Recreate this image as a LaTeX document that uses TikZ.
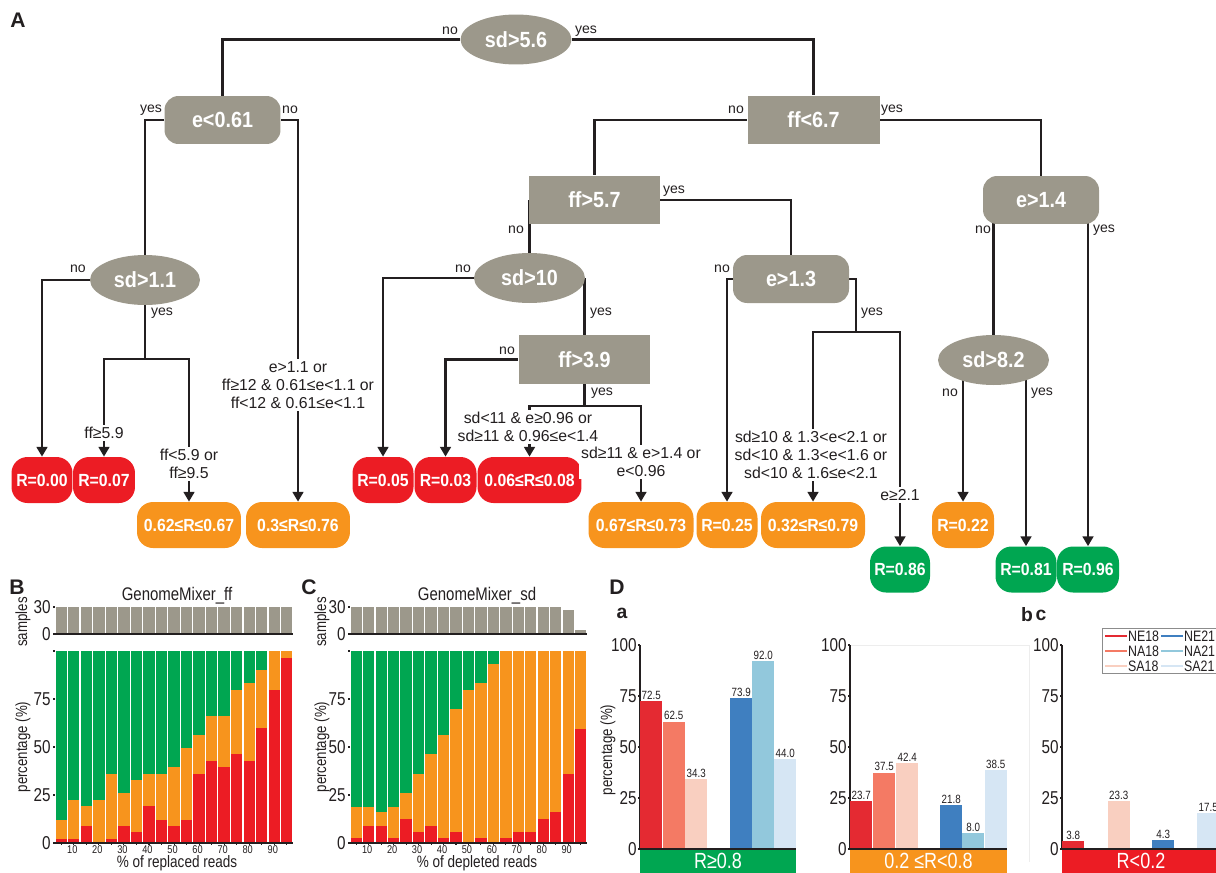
\documentclass[tikz,border=0pt]{standalone}
\usepackage{fontspec}
\setmainfont{Liberation Sans}
\newfontfamily\narrowsf{Liberation Sans}[FakeStretch=0.82]
\newfontfamily\leafsf{Liberation Sans}[FakeStretch=0.9]
\usepackage{tikz}
\usetikzlibrary{arrows.meta,positioning,backgrounds,calc,shapes.geometric}
\definecolor{dtInk}{HTML}{231F20}
\definecolor{dtGray}{HTML}{9C988B}
\definecolor{dtRed}{HTML}{EC1C24}
\definecolor{dtOrange}{HTML}{F7941D}
\definecolor{dtGreen}{HTML}{00A651}
\definecolor{dtNEa}{HTML}{E42A32}
\definecolor{dtNAa}{HTML}{F47A64}
\definecolor{dtSAa}{HTML}{F9CFC0}
\definecolor{dtNEb}{HTML}{3F7FC0}
\definecolor{dtNAb}{HTML}{92C8DC}
\definecolor{dtSAb}{HTML}{D6E6F4}
\tikzset{
  ovbox/.style={ellipse,fill=dtGray,minimum width=2.22cm,minimum height=1.0cm,
    inner sep=0pt,font=\leafsf\fontsize{12.5}{13}\selectfont\bfseries,text=white},
  sqbox/.style={rectangle,fill=dtGray,minimum width=2.64cm,minimum height=0.98cm,
    inner sep=0pt,font=\leafsf\fontsize{12.5}{13}\selectfont\bfseries,text=white},
  rdbox/.style={rectangle,rounded corners=0.28cm,fill=dtGray,minimum width=2.32cm,
    minimum height=0.96cm,inner sep=0pt,font=\leafsf\fontsize{12.5}{13}\selectfont\bfseries,text=white},
  leaf/.style={rectangle,rounded corners=0.32cm,minimum height=0.92cm,minimum width=1.22cm,
    inner sep=0pt,font=\leafsf\fontsize{10}{11}\selectfont\bfseries,text=white},
  wleaf/.style={leaf,minimum width=2.08cm},
  lowR/.style={fill=dtRed},
  midR/.style={fill=dtOrange},
  highR/.style={fill=dtGreen},
  yn/.style={font=\fontsize{8}{9}\selectfont,inner sep=0pt,text=dtInk},
  cond/.style={fill=white,align=center,inner sep=1.5pt,
    font=\fontsize{9}{10.2}\selectfont,text=dtInk},
  br/.style={line width=1.5pt,draw=dtInk},
  arr/.style={br,-{Triangle[length=5.5pt,width=6pt]}},
  pnl/.style={font=\fontsize{12}{12}\selectfont\bfseries,text=dtInk,inner sep=0pt},
  ttl/.style={font=\narrowsf\fontsize{10.4}{11}\selectfont,text=dtInk,inner sep=0pt},
  xttl/.style={font=\narrowsf\fontsize{9.4}{10}\selectfont,text=dtInk,inner sep=0pt,anchor=base},
  axlbl/.style={font=\narrowsf\fontsize{9.2}{10}\selectfont,text=dtInk,inner sep=0pt},
  tk/.style={font=\narrowsf\fontsize{10.6}{11}\selectfont,text=dtInk,inner sep=0pt,anchor=east},
  xtk/.style={font=\narrowsf\fontsize{6.4}{7}\selectfont,text=dtInk,inner sep=0pt,anchor=north},
  val/.style={font=\narrowsf\fontsize{6.8}{7}\selectfont,text=dtInk,inner sep=0.6pt,anchor=south},
  lgd/.style={font=\narrowsf\fontsize{8.6}{9}\selectfont,text=dtInk,inner sep=1pt,anchor=west},
  band/.style={rectangle,minimum height=0.48cm,inner sep=0pt,text=white,
    font=\narrowsf\fontsize{12.5}{13}\selectfont},
  axline/.style={line width=0.6pt,draw=dtInk},
}
\begin{document}
\begin{tikzpicture}[x=0.02cm,y=-0.02cm]
  \useasboundingbox (0,0) rectangle (1216,872);

  % A: regression tree
  \node[pnl] (labA) at (18,20) {A};
  \node[ovbox] (root) at (516,39.5) {sd>5.6};
  \node[rdbox] (e061) at (222.5,120) {e<0.61};
  \node[sqbox] (ff67) at (813.5,120) {ff<6.7};
  \node[sqbox,minimum width=2.62cm] (ff57) at (594.5,200) {ff>5.7};
  \node[rdbox] (e14) at (1041,200) {e>1.4};
  \node[ovbox,minimum width=2.2cm] (sd11) at (145,280) {sd>1.1};
  \node[ovbox] (sd10) at (529.5,278) {sd>10};
  \node[rdbox] (e13) at (791,279) {e>1.3};
  \node[sqbox] (ff39) at (584.5,359.5) {ff>3.9};
  \node[ovbox] (sd82) at (993.5,360) {sd>8.2};

  \node[leaf,lowR] (r000) at (42,480) {R=0.00};
  \node[leaf,lowR,minimum width=1.24cm] (r007) at (104,480) {R=0.07};
  \node[wleaf,midR] (r062) at (189,525) {0.62≤R≤0.67};
  \node[wleaf,midR] (r030) at (298,525) {0.3≤R≤0.76};
  \node[leaf,lowR] (r005) at (383,480) {R=0.05};
  \node[leaf,lowR,minimum width=1.24cm] (r003) at (445.5,480) {R=0.03};
  \node[wleaf,lowR] (r006) at (529.5,480) {0.06≤R≤0.08};
  \node[wleaf,midR,minimum width=2.1cm] (r067) at (641,525) {0.67≤R≤0.73};
  \node[leaf,midR] (r025) at (727,525) {R=0.25};
  \node[wleaf,midR] (r032) at (813,525) {0.32≤R≤0.79};
  \node[leaf,highR,minimum width=1.2cm] (r086) at (900,569.5) {R=0.86};
  \node[leaf,midR,minimum width=1.24cm] (r022) at (963,525) {R=0.22};
  \node[leaf,highR] (r081) at (1026,569.5) {R=0.81};
  \node[leaf,highR,minimum width=1.24cm] (r096) at (1088,569.5) {R=0.96};

  \coordinate (k1) at (145,359);
  \coordinate (k2) at (584.5,406);
  \coordinate (k3) at (856,332);

  \begin{scope}[on background layer]
    \draw[br] (root.west) -| (e061.north);
    \draw[br] (root.east) -| (ff67.north);
    \draw[br] (e061.west) -| (sd11.north);
    \draw[arr] (e061.east) -| (r030.north);
    \draw[arr] (sd11.west) -| (r000.north);
    \draw[br] (sd11.south) -- (k1);
    \draw[arr] (k1) -| (r007.north);
    \draw[arr] (k1) -| (r062.north);
    \draw[br] (ff67.west) -| (ff57.north);
    \draw[br] (ff67.east) -| (e14.north);
    \draw[br] (sd10.north |- ff57.center) -- (sd10.north);
    \draw[br] (ff57.east) -| (e13.north);
    \draw[arr] (sd10.west) -| (r005.north);
    \draw[br] (ff39.north |- sd10.center) -- (ff39.north);
    \draw[arr] (ff39.west) -| (r003.north);
    \draw[br] (ff39.south) -- (k2);
    \draw[arr] (k2) -| (r006.north);
    \draw[arr] (k2) -| (r067.north);
    \draw[arr] (e13.west) -| (r025.north);
    \draw[br] (e13.east) -| (k3);
    \draw[arr] (k3) -| (r032.north);
    \draw[arr] (k3) -| (r086.north);
    \draw[br] (sd82.north |- e14.center) -- (sd82.north);
    \draw[arr] (r096.north |- e14.center) -- (r096.north);
    \draw[arr] (r022.north |- sd82.center) -- (r022.north);
    \draw[arr] (r081.north |- sd82.center) -- (r081.north);
  \end{scope}

  \node[yn] (n1) at (450,31) {no};
  \node[yn] (y1) at (586,31) {yes};
  \node[yn] (y2) at (151,110) {yes};
  \node[yn] (n2) at (290,110) {no};
  \node[yn] (n3) at (78,269) {no};
  \node[yn] (y3) at (162,313) {yes};
  \node[yn] (n4) at (736,110) {no};
  \node[yn] (y4) at (892,110) {yes};
  \node[yn] (n5) at (516,230) {no};
  \node[yn] (y5) at (674,191) {yes};
  \node[yn] (n6) at (463,269) {no};
  \node[yn] (y6) at (601,313) {yes};
  \node[yn] (n7) at (507,351) {no};
  \node[yn] (y7) at (602,393) {yes};
  \node[yn] (n8) at (722,269) {no};
  \node[yn] (y8) at (872,313) {yes};
  \node[yn] (n9) at (983,230) {no};
  \node[yn] (y9) at (1104,230) {yes};
  \node[yn] (n10) at (950,393) {no};
  \node[yn] (y10) at (1042,393) {yes};

  \node[cond] (c1) at (104,433) {ff≥5.9};
  \node[cond] (c2) at (189,464) {ff<5.9 or\\ff≥9.5};
  \node[cond] (c3) at (298,385) {e>1.1 or\\ff≥12 \& 0.61≤e<1.1 or\\ff<12 \& 0.61≤e<1.1};
  \node[cond] (c4) at (528,427) {sd<11 \& e≥0.96 or\\sd≥11 \& 0.96≤e<1.4};
  \node[cond] (c5) at (641,462) {sd≥11 \& e>1.4 or\\e<0.96};
  \node[cond] (c6) at (811,455) {sd≥10 \& 1.3<e<2.1 or\\sd<10 \& 1.3<e<1.6 or\\sd<10 \& 1.6≤e<2.1};
  \node[cond] (c7) at (900,495) {e≥2.1};

  % B: GenomeMixer_ff
  \node[pnl] (labB) at (17,587) {B};
  \node[ttl] (ttlB) at (177,596) {GenomeMixer\_ff};
  \node[axlbl,rotate=90] (smpB) at (23,622) {samples};
  \node[axlbl,rotate=90] (pctB) at (23,747) {percentage (\%)};
  \node[xttl] (xlbB) at (177,867) {\% of replaced reads};
  \foreach \i in {1,...,19}
    \fill[dtGray] ({55+(\i-1)*12.53+0.6},634) rectangle ({55+\i*12.53-0.6},607);
  \draw[axline] (55,634) -- (293,634);
  \draw[axline] (53,607) -- (55,607) (53,634) -- (55,634);
  \node[tk] (sB30) at (51,607) {30};
  \node[tk] (sB0) at (51,634) {0};
  \foreach \r/\o [count=\i] in {2.1/12.2,2.1/22.6,9.1/19.1,0/22.6,2.1/36.2,9.1/26.0,
      5.6/32.7,19.1/36.2,12.2/36.2,9.1/39.7,12.2/49.7,36.2/56.3,42.8/66.3,39.7/66.3,
      46.2/79.9,42.8/83.4,59.8/90.0,79.9/100,96.5/100}{
    \pgfmathsetmacro{\xa}{55+(\i-1)*12.53+0.6}
    \pgfmathsetmacro{\xb}{55+\i*12.53-0.6}
    \fill[dtGreen] (\xa,843) rectangle (\xb,651);
    \fill[dtOrange] (\xa,843) rectangle (\xb,{843-1.92*\o});
    \fill[dtRed] (\xa,843) rectangle (\xb,{843-1.92*\r});
    \draw[axline] ({55+(\i-0.5)*12.53},843) -- ({55+(\i-0.5)*12.53},845);
  }
  \draw[axline] (55,843) -- (293,843);
  \foreach \v in {0,25,50,75,100}
    \draw[axline] (53,{843-1.92*\v}) -- (55,{843-1.92*\v});
  \foreach \v in {0,25,50,75}
    \node[tk] at (51,{843-1.92*\v}) {\v};
  \foreach \v [count=\j] in {10,20,...,90}
    \node[xtk] at ({55+(2*\j-0.5)*12.53-1.5},845) {\v};

  % C: GenomeMixer_sd
  \node[pnl] (labC) at (309,587) {C};
  \node[ttl] (ttlC) at (477,596) {GenomeMixer\_sd};
  \node[axlbl,rotate=90] (smpC) at (322,622) {samples};
  \node[axlbl,rotate=90] (pctC) at (322,747) {percentage (\%)};
  \node[xttl] (xlbC) at (477,867) {\% of depleted reads};
  \foreach \s [count=\i] in {30,30,30,30,30,30,30,30,30,30,30,30,30,30,30,30,30,26.3,4}
    \fill[dtGray] ({350+(\i-1)*12.47+0.6},634) rectangle ({350+\i*12.47-0.6},{634-0.9*\s});
  \draw[axline] (350,634) -- (587,634);
  \draw[axline] (348,607) -- (350,607) (348,634) -- (350,634);
  \node[tk] (sC30) at (346,607) {30};
  \node[tk] (sC0) at (346,634) {0};
  \foreach \r/\o [count=\i] in {2.6/19,9/19,9/16,2.6/19,12.5/26,5.7/36,9/46.5,2.6/56.3,
      5.7/69.7,0/79.7,2.6/83.2,0/93,2.6/100,5.7/100,5.7/100,12.5/100,16/100,36/100,59.3/100}{
    \pgfmathsetmacro{\xa}{350+(\i-1)*12.47+0.6}
    \pgfmathsetmacro{\xb}{350+\i*12.47-0.6}
    \fill[dtGreen] (\xa,843) rectangle (\xb,651);
    \fill[dtOrange] (\xa,843) rectangle (\xb,{843-1.92*\o});
    \fill[dtRed] (\xa,843) rectangle (\xb,{843-1.92*\r});
    \draw[axline] ({350+(\i-0.5)*12.47},843) -- ({350+(\i-0.5)*12.47},845);
  }
  \draw[axline] (350,843) -- (587,843);
  \foreach \v in {0,25,50,75,100}
    \draw[axline] (348,{843-1.92*\v}) -- (350,{843-1.92*\v});
  \foreach \v in {0,25,50,75}
    \node[tk] at (346,{843-1.92*\v}) {\v};
  \foreach \v [count=\j] in {10,20,...,90}
    \node[xtk] at ({350+(2*\j-0.5)*12.47-1.5},845) {\v};

  % D: bar charts by class of R
  \node[pnl] (labD) at (617,587) {D};
  \node[pnl,font=\fontsize{11}{11}\selectfont\bfseries] (labDa) at (622,613) {a};
  \node[pnl,font=\fontsize{11}{11}\selectfont\bfseries] (labDb) at (1027,615) {b};
  \node[pnl,font=\fontsize{11}{11}\selectfont\bfseries] (labDc) at (1041,615) {c};
  \node[axlbl,rotate=90] (pctD) at (608,750) {percentage (\%)};
  \draw[black!7,line width=0.5pt] (850,645) -- (1029,645) -- (1029,862);
  \foreach \ax in {640,850,1062}{
    \draw[axline] (\ax,645) -- (\ax,849);
    \foreach \v in {0,25,50,75,100}{
      \draw[axline] ({\ax-2},{849-2.04*\v}) -- (\ax,{849-2.04*\v});
      \node[tk] at ({\ax-3},{849-2.04*\v}) {\v};
    }
  }
  \foreach \x/\v/\c in {640/72.5/dtNEa,662.5/62.5/dtNAa,685/34.3/dtSAa,
      730/73.9/dtNEb,752/92.0/dtNAb,774/44.0/dtSAb,
      850/23.7/dtNEa,873/37.5/dtNAa,896/42.4/dtSAa,
      940/21.8/dtNEb,962/8.0/dtNAb,984.5/38.5/dtSAb,
      1062/3.8/dtNEa,1107.5/23.3/dtSAa,1152/4.3/dtNEb,1197/17.5/dtSAb}{
    \fill[\c] (\x,849) rectangle ({\x+22.3},{849-2.04*\v});
    \node[val] at ({\x+11.2},{849-2.04*\v}) {\v};
  }
  \node[band,fill=dtGreen,minimum width=3.12cm] (bandA) at (718,861) {R≥0.8};
  \node[band,fill=dtOrange,minimum width=3.14cm] (bandB) at (928.5,861) {0.2 ≤R<0.8};
  \node[band,fill=dtRed,minimum width=3.16cm] (bandC) at (1141,861) {R<0.2};
  \draw[line width=1pt,dtInk] (640,849) -- (796,849) (850,849) -- (1007,849) (1062,849) -- (1220,849);

  \draw[black!45,line width=0.5pt,fill=white] (1102,628) rectangle (1222,673);
  \foreach \c/\t/\y in {dtNEa/NE18/636,dtNAa/NA18/651,dtSAa/SA18/666}{
    \draw[\c,line width=1.3pt] (1105,\y) -- (1127,\y);
    \node[lgd] at (1126,\y) {\t};
  }
  \foreach \c/\t/\y in {dtNEb/NE21/636,dtNAb/NA21/651,dtSAb/SA21/666}{
    \draw[\c,line width=1.3pt] (1161,\y) -- (1183,\y);
    \node[lgd] at (1182,\y) {\t};
  }
\end{tikzpicture}
\end{document}
